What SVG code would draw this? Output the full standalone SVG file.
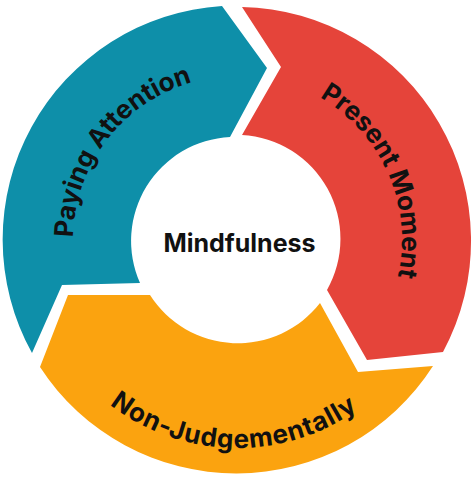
<svg xmlns="http://www.w3.org/2000/svg" xmlns:xlink="http://www.w3.org/1999/xlink" width="474" height="479" viewBox="0 0 474 479">
<style>
.lbl{font-family:Inter,"Open Sans","Liberation Sans",sans-serif;font-weight:700;font-size:26px;fill:#111}
</style>
<defs>
<path id="tp1" d="M 85.5,302.8 A 164 164 0 0 1 258.4,77.4"/>
<path id="tp2" d="M 255.7,76.1 A 165 165 0 0 1 369.6,338.1"/>
<path id="tp3" d="M 40.3,307.7 A 208 208 0 0 0 431.2,314.5"/>
</defs>
<rect width="474" height="479" fill="#fff"/>
<g id="connectors"></g>
<g id="paying-attention">
<path d="M 32,353 A 234 234 0 0 1 222,6 L 267,68 L 230,137 A 104 104 0 0 0 140,283 L 62,285 Z" fill="#0E8FA9"/>
<text class="lbl"><textPath xlink:href="#tp1" href="#tp1" startOffset="50%" text-anchor="middle">Paying Attention</textPath></text>
</g>
<g id="present-moment">
<path d="M 242,7 A 234 234 0 0 1 443,352 L 367,360 L 327,290 A 104 104 0 0 0 242,135 L 281,67 Z" fill="#E5443A"/>
<text class="lbl"><textPath xlink:href="#tp2" href="#tp2" startOffset="50%" text-anchor="middle">Present Moment</textPath></text>
</g>
<g id="non-judgementally">
<path d="M 433,366 A 234 234 0 0 1 40,367 L 68,295 L 150,295 A 104 104 0 0 0 320,303 L 358,372 Z" fill="#FBA30F"/>
<text class="lbl" letter-spacing="0.8"><textPath xlink:href="#tp3" href="#tp3" startOffset="50%" text-anchor="middle">Non-Judgementally</textPath></text>
</g>
<g id="mindfulness">
<text class="lbl" x="239.5" y="252" text-anchor="middle" style="font-size:25px">Mindfulness</text>
</g>
</svg>
